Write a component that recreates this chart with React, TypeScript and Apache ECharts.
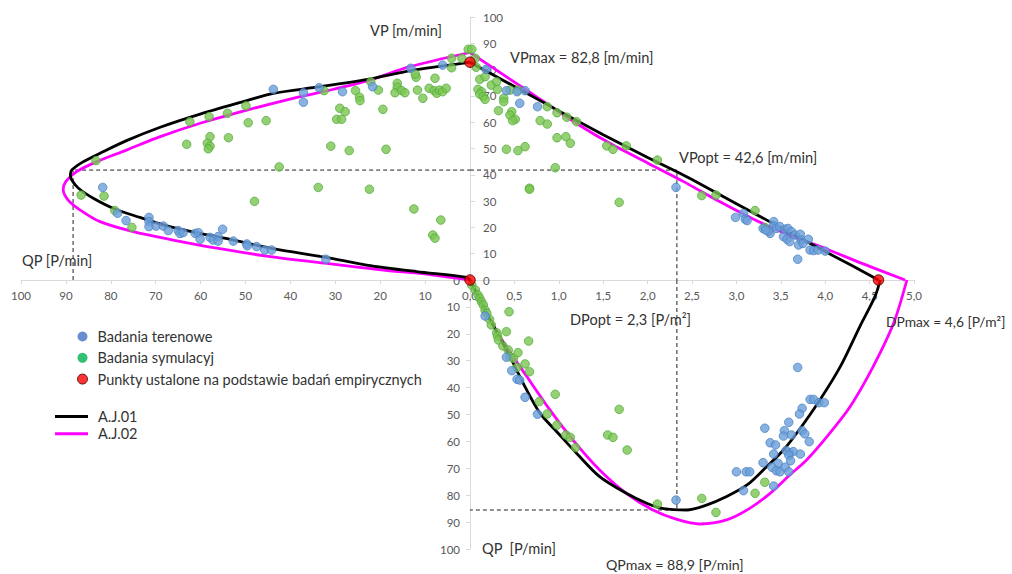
import React, { useEffect, useRef } from "react";
import * as echarts from "echarts";

// ---------- DATA ----------
// Upper-left quadrant: [QP (P/min), VP (m/min)]
const fieldQV: number[][] = [
  [43.8, 72.5], [37.1, 71.2], [37.1, 67.6], [33.6, 73.1], [28.4, 71.6], [21.7, 73.5], [13.2, 80.5], [6.1, 81.7],
  [81.8, 35.2], [78.5, 25.4], [76.6, 22.6], [71.5, 23.8], [71.5, 22.2], [71.5, 20.3], [69.9, 20.5], [68.3, 20.5],
  [67.2, 18.8], [65.0, 18.8], [64.6, 17.7], [63.9, 18.0], [61.2, 17.7], [60.5, 18.0], [60.1, 15.5], [57.9, 16.2],
  [57.2, 15.2], [56.1, 16.5], [56.1, 14.8], [55.1, 19.3], [52.7, 14.8], [49.7, 13.7], [49.6, 13.0], [47.5, 12.7],
  [45.7, 11.4], [44.2, 11.4], [32.1, 7.9],
];
const simQV: number[][] = [
  [83.3, 45.4], [86.6, 32.3], [81.5, 31.9], [79.1, 26.4], [75.3, 20.0], [62.4, 60.2], [58.1, 62.1], [54.0, 63.4],
  [49.9, 66.2], [49.4, 59.8], [45.4, 60.6], [63.1, 51.6], [57.9, 54.5], [58.5, 52.0], [57.9, 50.9], [58.3, 49.9],
  [53.8, 54.1], [42.5, 43.0], [48.0, 29.9], [32.5, 72.0], [29.0, 65.3], [27.8, 64.0], [29.7, 61.1], [28.6, 61.1],
  [25.5, 72.0], [24.6, 69.5], [24.5, 68.2], [22.1, 75.4], [20.4, 72.2], [19.4, 64.9], [16.2, 74.8], [16.2, 73.3],
  [16.7, 71.2], [15.2, 72.0], [14.5, 71.2], [12.0, 77.1], [12.2, 78.3], [11.7, 72.2], [10.5, 69.1], [9.1, 72.9],
  [7.8, 76.7], [8.0, 72.0], [7.4, 71.0], [6.8, 72.2], [6.1, 71.6], [5.3, 72.9], [4.1, 84.3], [1.8, 84.3],
  [4.1, 80.7], [0.4, 87.7], [31.0, 50.9], [26.9, 49.2], [18.7, 49.7], [33.8, 35.2], [22.4, 34.5], [12.5, 27.0],
  [6.5, 22.8], [8.3, 17.1], [7.8, 15.9],
];
const aj01QV: number[][] = [
  [0, 0], [0.7, 1.0], [11.9, 3.2], [23.0, 5.7], [32.1, 8.6], [44.2, 12.0], [52.7, 15.2], [60.1, 17.7],
  [67.5, 20.6], [73.5, 23.8], [79.1, 27.0], [83.9, 31.1], [87.2, 34.9], [88.7, 38.0], [89.0, 40.0], [88.7, 41.8],
  [86.1, 45.0], [82.4, 48.2], [76.5, 53.0], [69.0, 58.1], [60.1, 63.1], [49.7, 68.2], [43.8, 71.0], [33.4, 73.5],
  [21.5, 76.7], [13.2, 79.6], [5.9, 81.4], [0, 82.8],
];
const aj02QV: number[][] = [
  [0, 0], [8.2, 1.9], [19.3, 3.8], [31.9, 6.3], [45.3, 9.1], [56.4, 12.1], [66.1, 15.2], [75.0, 18.4],
  [82.4, 22.2], [86.8, 26.6], [89.5, 30.4], [90.6, 34.4], [90.0, 37.5], [87.6, 41.2], [83.1, 45.0], [76.5, 49.4],
  [69.0, 54.5], [60.1, 59.6], [49.7, 64.6], [39.4, 69.1], [32.7, 71.6], [22.3, 76.0], [13.4, 81.1], [0, 86.5],
];
const optQV: number[][] = [[88.4, 0], [88.4, 41.8], [0, 41.8]];

// Upper-right quadrant: [DP (P/m2), VP (m/min)]
const fieldDV: number[][] = [
  [0.18, 80.1], [0.41, 72.0], [0.53, 71.6], [0.62, 72.0], [0.56, 67.2], [0.76, 65.9], [2.32, 35.2], [2.99, 23.8],
  [3.08, 25.3], [3.10, 23.1], [3.12, 22.6], [3.42, 22.2], [3.42, 20.5], [3.45, 19.6], [3.38, 17.7], [3.30, 19.6],
  [3.49, 20.3], [3.55, 19.3], [3.58, 19.6], [3.62, 18.4], [3.53, 16.5], [3.57, 15.5], [3.60, 14.6], [3.66, 17.1],
  [3.72, 17.4], [3.73, 15.2], [3.70, 13.3], [3.75, 13.9], [3.81, 15.5], [3.83, 11.4], [3.87, 11.2], [3.92, 11.4],
  [4.00, 11.0], [3.69, 7.9], [3.36, 18.6], [3.33, 19.0],
];
const simDV: number[][] = [
  [0.02, 87.7], [0.06, 84.3], [0.07, 80.9], [0.11, 76.3], [0.17, 77.3], [0.09, 72.5], [0.13, 71.6], [0.11, 70.7],
  [0.15, 69.7], [0.17, 68.7], [0.24, 74.1], [0.30, 75.4], [0.31, 72.5], [0.38, 69.1], [0.38, 67.8], [0.32, 64.4],
  [0.45, 72.2], [0.54, 72.2], [0.47, 64.0], [0.45, 62.7], [0.51, 61.1], [0.48, 60.6], [0.87, 65.9], [0.98, 63.6],
  [1.09, 61.9], [1.20, 60.2], [0.79, 60.6], [0.87, 59.3], [0.98, 54.1], [1.08, 54.5], [1.13, 52.0], [0.41, 49.7],
  [0.54, 49.2], [0.62, 50.7], [0.96, 42.7], [0.67, 34.9], [0.67, 34.5], [1.54, 51.0], [1.61, 49.7], [1.76, 51.0],
  [2.11, 45.6], [1.68, 29.5], [2.61, 32.1], [2.77, 32.3], [3.21, 26.4], [3.32, 20.0],
];
const aj01DV: number[][] = [
  [0, 82.8], [0.5, 73.6], [1.0, 64.3], [1.5, 55.2], [2.0, 46.6], [2.33, 41.2], [2.5, 38.2], [3.0, 29.0],
  [3.5, 19.9], [4.0, 10.8], [4.3, 5.5], [4.6, 0],
];
const aj02DV: number[][] = [
  [0, 86.5], [0.4, 77.5], [0.8, 68.5], [1.2, 59.5], [1.6, 51.5], [2.0, 44.5], [2.4, 37.5], [2.8, 30.0],
  [3.2, 23.0], [3.6, 17.0], [4.0, 12.0], [4.4, 6.5], [4.9, 0],
];
const empiricalDV: number[][] = [[0, 0], [0, 82.8], [4.6, 0]];
const optDV: number[][] = [[0, 41.8], [2.33, 41.8], [2.33, 0]];

// Lower-right quadrant: [DP (P/m2), QP (P/min)]
const fieldDQ: number[][] = [
  [0.17, 13.4], [0.41, 28.7], [0.47, 33.7], [0.53, 36.9], [0.56, 37.2], [0.62, 43.6], [0.76, 49.9], [2.32, 81.8],
  [3.69, 32.5], [3.83, 44.4], [3.87, 44.4], [3.93, 45.6], [3.99, 45.6], [3.74, 47.7], [3.71, 49.8], [3.32, 55.1],
  [3.59, 52.9], [3.54, 56.0], [3.53, 58.0], [3.62, 57.6], [3.74, 56.0], [3.77, 57.2], [3.82, 60.1], [3.38, 60.5],
  [3.44, 61.3], [3.42, 64.7], [3.56, 63.4], [3.60, 64.2], [3.64, 63.8], [3.59, 65.1], [3.72, 64.7], [3.61, 67.2],
  [3.30, 67.9], [3.47, 68.2], [3.40, 69.6], [3.45, 70.9], [3.49, 71.3], [3.55, 69.6], [3.59, 71.3], [3.00, 71.3],
  [3.11, 71.3], [3.15, 71.3], [3.08, 78.3], [3.42, 76.6],
];
const simDQ: number[][] = [
  [0.02, 1.9], [0.06, 3.7], [0.09, 5.6], [0.11, 6.8], [0.13, 8.1], [0.15, 9.3], [0.17, 11.2], [0.19, 12.4],
  [0.22, 14.6], [0.24, 16.7], [0.30, 19.6], [0.31, 20.8], [0.32, 22.3], [0.37, 24.5], [0.43, 26.0], [0.45, 28.5],
  [0.49, 29.1], [0.54, 27.0], [0.53, 32.5], [0.44, 11.8], [0.41, 19.2], [0.66, 22.7], [0.62, 31.2], [0.67, 34.1],
  [0.78, 45.2], [0.87, 49.8], [0.96, 42.5], [0.98, 53.9], [1.08, 57.6], [1.13, 58.5], [1.19, 62.3], [1.68, 48.1],
  [1.55, 57.6], [1.61, 58.5], [1.77, 63.2], [2.11, 83.3], [2.61, 81.2], [2.77, 86.4], [3.21, 79.3], [3.32, 75.2],
];
const aj01DQ: number[][] = [
  [0, 0], [0.23, 14.9], [0.45, 28.5], [0.62, 39.7], [0.79, 49.6], [0.98, 56.5], [1.20, 64.4], [1.46, 73.1],
  [1.76, 79.3], [1.99, 83.0], [2.18, 85.0], [2.44, 85.5], [2.67, 83.6], [2.89, 80.5], [3.12, 76.2], [3.34, 69.4],
  [3.53, 63.2], [3.72, 55.1], [3.94, 44.6], [4.17, 32.2], [4.39, 17.3], [4.56, 6.2], [4.62, 0],
];
const aj02DQ: number[][] = [
  [0, 0], [0.23, 14.9], [0.41, 24.8], [0.64, 35.9], [0.90, 48.3], [1.16, 59.5], [1.46, 70.6], [1.76, 79.3],
  [2.06, 85.5], [2.33, 89.0], [2.59, 90.7], [2.89, 89.2], [3.15, 84.9], [3.38, 79.3], [3.60, 72.5], [3.79, 66.9],
  [4.02, 58.2], [4.28, 47.1], [4.54, 32.2], [4.77, 16.1], [4.92, 0],
];
const optDQ: number[][] = [[2.33, 0], [2.33, 85.5], [0, 85.5]];

// Tick values
const qpTicks = { min: 0, max: 100, interval: 10 };
const vpTicks = { min: 0, max: 100, interval: 10 };
const dpTicks = { min: 0, max: 5, interval: 0.5 };

// ---------- STYLE ----------
const FONT = 'Lato, "Liberation Sans", Arial, sans-serif';
const AXIS_COLOR = "#d9d9d9";
const LABEL_COLOR = "#595959";
const TEXT_COLOR = "#333333";
const BLUE = { color: "#6b9fd8", borderColor: "#4a82c4", borderWidth: 1 };
const GREEN = { color: "#7ac651", borderColor: "#52ad3c", borderWidth: 1 };
const RED = { color: "#ff0000", borderColor: "#3a0000", borderWidth: 1 };

const axisLine = { show: true, onZero: false, lineStyle: { color: AXIS_COLOR, width: 1 } };
const axisLabelBase = { color: LABEL_COLOR, fontSize: 11.5, fontFamily: FONT };

function scatter(name: string, data: number[][], grid: number, style: any, size = 8.5) {
  return {
    type: "scatter",
    name,
    xAxisIndex: grid,
    yAxisIndex: grid,
    data,
    symbolSize: size,
    itemStyle: style,
    z: 5,
  };
}
function curve(name: string, data: number[][], grid: number, color: string, smooth: number | boolean, z: number) {
  return {
    type: "line",
    name,
    xAxisIndex: grid,
    yAxisIndex: grid,
    data,
    color,
    symbol: "none",
    smooth,
    clip: false,
    lineStyle: { color, width: 2.8 },
    z,
  };
}
function dashed(data: number[][], grid: number) {
  return {
    type: "line",
    name: "opt",
    xAxisIndex: grid,
    yAxisIndex: grid,
    data,
    symbol: "none",
    clip: false,
    lineStyle: { color: "#222", width: 1, type: [4, 3] },
    z: 1,
  };
}

function txt(text: string, x: number, y: number, size = 14.6) {
  return {
    type: "text",
    x,
    y,
    style: { text, fill: TEXT_COLOR, fontSize: size, fontFamily: FONT, verticalAlign: "middle", align: "left" },
    z: 10,
  };
}

export default function App() {
  const ref = useRef<HTMLDivElement>(null);
  useEffect(() => {
    if (!ref.current) return;
    const chart = echarts.init(ref.current, null, { renderer: "svg" });
    const dpFmt = (v: number) => v.toFixed(1).replace(".", ",");
    const option: any = {
      animation: false,
      backgroundColor: "#ffffff",
      grid: [
        { left: 21, top: 17, width: 449, height: 263 },
        { left: 470, top: 17, width: 444, height: 263 },
        { left: 470, top: 280, width: 444, height: 269 },
      ],
      xAxis: [
        {
          gridIndex: 0, type: "value", ...qpTicks, inverse: true, position: "bottom",
          axisLine, axisTick: { show: true, length: 4, lineStyle: { color: AXIS_COLOR } },
          axisLabel: { ...axisLabelBase, margin: 9, showMinLabel: false }, splitLine: { show: false },
        },
        {
          gridIndex: 1, type: "value", ...dpTicks, position: "bottom",
          axisLine, axisTick: { show: true, length: 4, lineStyle: { color: AXIS_COLOR } },
          axisLabel: { ...axisLabelBase, margin: 9, formatter: dpFmt }, splitLine: { show: false },
        },
        {
          gridIndex: 2, type: "value", ...dpTicks, position: "top", show: false, splitLine: { show: false },
        },
      ],
      yAxis: [
        { gridIndex: 0, type: "value", ...vpTicks, show: false, splitLine: { show: false } },
        {
          gridIndex: 1, type: "value", ...vpTicks, position: "left",
          axisLine, axisTick: { show: true, inside: true, length: 5, lineStyle: { color: AXIS_COLOR } },
          axisLabel: { ...axisLabelBase, inside: true, margin: 13 }, splitLine: { show: false },
        },
        {
          gridIndex: 2, type: "value", ...qpTicks, inverse: true, position: "left",
          axisLine, axisTick: { show: true, length: 4, lineStyle: { color: AXIS_COLOR } },
          axisLabel: { ...axisLabelBase, margin: 10 }, splitLine: { show: false },
        },
      ],
      legend: [
        {
          orient: "vertical", left: 72, top: 324, itemWidth: 10, itemHeight: 10, itemGap: 6.3,
          selectedMode: false,
          textStyle: { fontSize: 14.5, fontFamily: FONT, color: TEXT_COLOR, lineHeight: 14, padding: [0, 0, 0, 5] },
          data: [
            { name: "Badania terenowe", icon: "circle", itemStyle: { color: "#4472c4", borderWidth: 0 } },
            { name: "Badania symulacyj", icon: "circle", itemStyle: { color: "#00b050", borderWidth: 0 } },
            { name: "Punkty ustalone na podstawie badań empirycznych", icon: "circle", itemStyle: { color: "#ff0000", borderColor: "#3a0000", borderWidth: 1 } },
          ],
        },
        {
          orient: "vertical", left: 50, top: 404, itemWidth: 33, itemHeight: 3, itemGap: 2.3,
          selectedMode: false,
          textStyle: { fontSize: 14.5, fontFamily: FONT, color: TEXT_COLOR, lineHeight: 14, padding: [0, 0, 0, 5] },
          data: [
            { name: "A.J.01", icon: "rect", itemStyle: { color: "#000000" } },
            { name: "A.J.02", icon: "rect", itemStyle: { color: "#ff00ff" } },
          ],
        },
      ],
      graphic: [
        txt("VP [m/min]", 370, 30),
        txt("VPmax = 82,8 [m/min]", 510, 57),
        txt("VPopt = 42,6 [m/min]", 679, 157),
        txt("DPopt = 2,3 [P/m²]", 570, 319),
        txt("DPmax = 4,6 [P/m²]", 886, 321, 13.8),
        txt("QP [P/min]", 22, 260),
        txt("QP  [P/min]", 482, 548),
        txt("QPmax = 88,9 [P/min]", 606, 564, 14.2),
      ],
      series: [
        dashed(optQV, 0),
        dashed(optDV, 1),
        dashed(optDQ, 2),
        curve("A.J.02", aj02QV, 0, "#ff00ff", 0.3, 2),
        curve("A.J.01", aj01QV, 0, "#000000", 0.3, 3),
        curve("A.J.02", aj02DV, 1, "#ff00ff", 0.2, 2),
        curve("A.J.01", aj01DV, 1, "#000000", false, 3),
        curve("A.J.02", aj02DQ, 2, "#ff00ff", 0.3, 2),
        curve("A.J.01", aj01DQ, 2, "#000000", 0.3, 3),
        scatter("Badania symulacyj", simQV, 0, GREEN),
        scatter("Badania terenowe", fieldQV, 0, BLUE),
        scatter("Badania symulacyj", simDV, 1, GREEN),
        scatter("Badania terenowe", fieldDV, 1, BLUE),
        scatter("Badania symulacyj", simDQ, 2, GREEN),
        scatter("Badania terenowe", fieldDQ, 2, BLUE),
        { ...scatter("Punkty ustalone na podstawie badań empirycznych", empiricalDV, 1, RED, 10.5), z: 6, clip: false },
      ],
    };
    chart.setOption(option);
    return () => chart.dispose();
  }, []);
  return (
    <div
      ref={ref}
      style={{ position: "absolute", left: 0, top: 0, width: 1012, height: 574, background: "#fff" }}
    />
  );
}
